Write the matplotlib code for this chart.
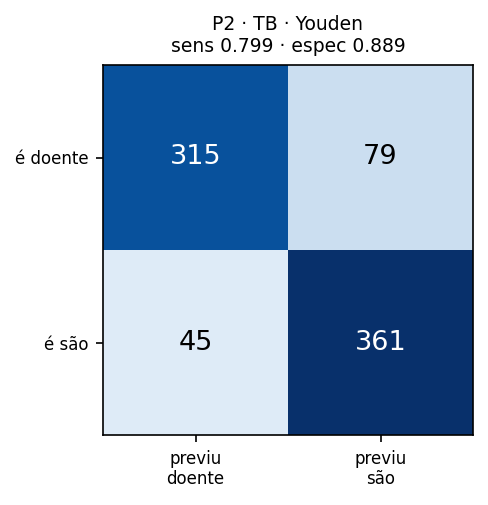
import matplotlib
matplotlib.use("Agg")
import matplotlib.pyplot as plt
import numpy as np

row_labels = ["é doente", "é são"]
col_labels = ["previu\ndoente", "previu\nsão"]
values = np.array([[315, 79], [45, 361]])
title = "P2 · TB · Youden\nsens 0.799 · espec 0.889"

DPI = 150
fig = plt.figure(figsize=(488 / DPI, 505 / DPI), dpi=DPI)
ax = fig.add_axes([103/488, 1-435/505, 370/488, 370/505])
im = ax.imshow(values, cmap="Blues", vmin=0, vmax=values.max(), aspect="auto")
for i in range(2):
    for j in range(2):
        v = values[i, j]
        ax.text(j, i, str(v), ha="center", va="center", fontsize=13,
                color="white" if v > values.max() / 2 else "black")
ax.set_xticks(range(2))
ax.set_xticklabels(col_labels, fontsize=8)
ax.set_yticks(range(2))
ax.set_yticklabels(row_labels, fontsize=8)
ax.set_title(title, fontsize=9)
fig.savefig("out.png", dpi=DPI)
